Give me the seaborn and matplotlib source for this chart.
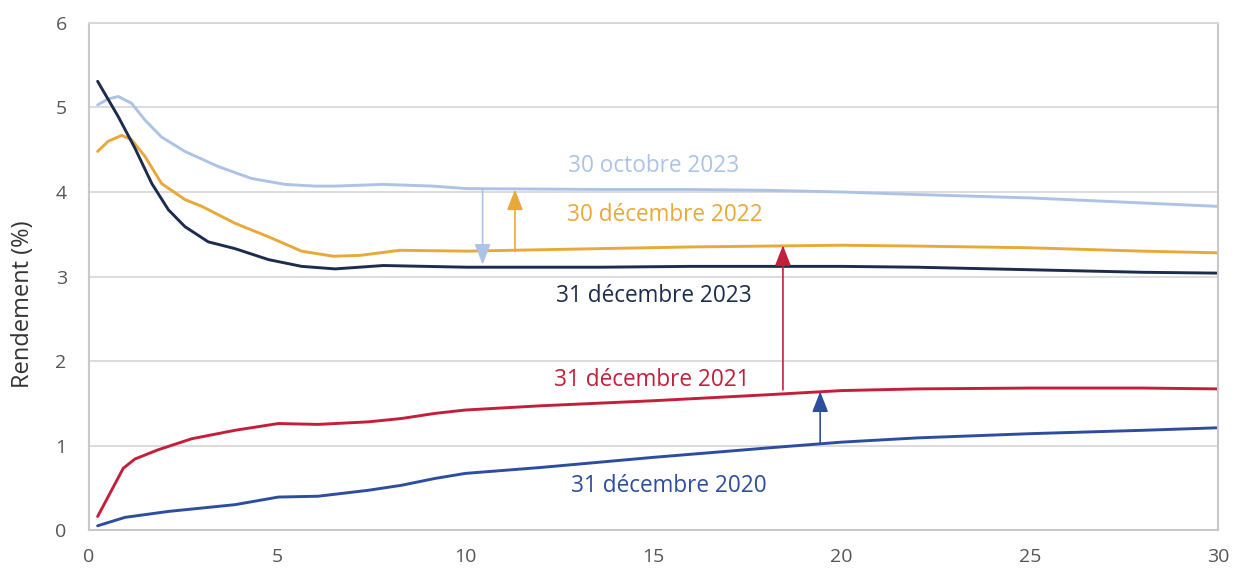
import matplotlib
matplotlib.use("Agg")
import matplotlib.pyplot as plt
import seaborn as sns
import pandas as pd

# ---- data ----
mat_oct23 = [0.23, 0.5, 0.78, 1.13, 1.49, 1.93, 2.55, 3.44, 4.32, 5.21, 6.0, 6.54, 7.82, 9.14, 10.04, 13.58, 16, 18, 20, 22, 25, 28, 30]
oct23 = [5.03, 5.1, 5.13, 5.05, 4.85, 4.65, 4.48, 4.30, 4.16, 4.09, 4.07, 4.07, 4.09, 4.07, 4.04, 4.03, 4.03, 4.02, 4.0, 3.97, 3.93, 3.87, 3.83]

mat_dec22 = [0.23, 0.51, 0.87, 1.13, 1.49, 1.93, 2.55, 3.0, 3.88, 4.77, 5.65, 6.49, 7.2, 8.26, 10.04, 13.58, 16, 18, 20, 22, 25, 28, 30]
dec22 = [4.48, 4.60, 4.67, 4.62, 4.42, 4.10, 3.91, 3.83, 3.63, 3.47, 3.30, 3.24, 3.25, 3.31, 3.30, 3.33, 3.35, 3.36, 3.37, 3.36, 3.34, 3.30, 3.28]

mat_dec23 = [0.23, 0.78, 1.22, 1.67, 2.11, 2.55, 3.17, 3.88, 4.77, 5.65, 6.54, 7.82, 10.04, 13.58, 16, 18, 20, 22, 25, 28, 30]
dec23 = [5.31, 4.89, 4.52, 4.10, 3.79, 3.59, 3.41, 3.33, 3.20, 3.12, 3.09, 3.13, 3.11, 3.11, 3.12, 3.12, 3.12, 3.11, 3.08, 3.05, 3.04]

mat_dec21 = [0.23, 0.60, 0.91, 1.22, 1.84, 2.73, 3.88, 5.03, 6.09, 7.42, 8.31, 9.19, 10.0, 12, 15, 18, 20, 22, 25, 28, 30]
dec21 = [0.16, 0.47, 0.73, 0.84, 0.95, 1.08, 1.18, 1.26, 1.25, 1.28, 1.32, 1.38, 1.42, 1.47, 1.53, 1.60, 1.65, 1.67, 1.68, 1.68, 1.67]

mat_dec20 = [0.23, 0.96, 2.11, 3.88, 5.03, 6.09, 7.42, 8.31, 9.19, 10.0, 12, 15, 18, 20, 22, 25, 28, 30]
dec20 = [0.05, 0.15, 0.22, 0.30, 0.39, 0.40, 0.47, 0.53, 0.61, 0.67, 0.74, 0.86, 0.97, 1.04, 1.09, 1.14, 1.18, 1.21]

series_names = ["30 octobre 2023", "30 décembre 2022", "31 décembre 2023", "31 décembre 2021", "31 décembre 2020"]
colors = ["#adc3e6", "#e8a93a", "#1c2c4f", "#c31f3b", "#2d4e9e"]

label_x = [15.0, 15.3, 15.0, 14.96, 15.4]
label_y = [4.31, 3.73, 2.77, 1.78, 0.52]

# arrows: (x, y_start, y_end, color index)
arrow_x = [10.46, 11.32, 18.44, 19.43]
arrow_y0 = [4.04, 3.30, 1.66, 1.03]
arrow_y1 = [3.14, 4.03, 3.37, 1.64]
arrow_c = [0, 1, 3, 4]

x_ticks = [0, 5, 10, 15, 20, 25, 30]
y_ticks = [0, 1, 2, 3, 4, 5, 6]
y_label = "Rendement (%)"

# ---- build frame ----
frames = []
for name, m, v in zip(series_names,
                      [mat_oct23, mat_dec22, mat_dec23, mat_dec21, mat_dec20],
                      [oct23, dec22, dec23, dec21, dec20]):
    frames.append(pd.DataFrame({"maturite": m, "rendement": v, "serie": name}))
df = pd.concat(frames, ignore_index=True)

sns.set_theme(style="white")
plt.rcParams["font.family"] = ["Open Sans", "DejaVu Sans"]

fig = plt.figure(figsize=(12.34, 5.69), dpi=100)
ax = fig.add_axes([0.0721, 0.0685, 0.9149, 0.8911])

sns.lineplot(data=df, x="maturite", y="rendement", hue="serie", hue_order=series_names,
             palette=dict(zip(series_names, colors)), linewidth=2.1, legend=False, ax=ax,
             estimator=None, sort=True)
for ln in ax.get_lines():
    ln.set_solid_joinstyle("round")
    ln.set_solid_capstyle("round")

for name, c, lx, ly in zip(series_names, colors, label_x, label_y):
    ax.text(lx, ly, name, color=c, fontsize=16.3, ha="center", va="center")

for x, y0, y1, ci in zip(arrow_x, arrow_y0, arrow_y1, arrow_c):
    ax.annotate("", xy=(x, y1), xytext=(x, y0),
                arrowprops=dict(arrowstyle="-|>,head_length=0.9,head_width=0.35",
                                color=colors[ci], lw=1.2, shrinkA=0, shrinkB=0,
                                mutation_scale=14))

ax.set_xlim(0, 30)
ax.set_ylim(0, 6)
ax.set_xticks(x_ticks)
ax.set_yticks(y_ticks)
ax.set_xlabel("")
ax.set_ylabel(y_label, fontsize=17, color="#333333")
ax.yaxis.set_label_coords(-0.048, 0.445)
ax.tick_params(axis="both", labelsize=14, colors="#555555", length=0)
ax.tick_params(axis="y", pad=16)
ax.tick_params(axis="x", pad=13)
ax.yaxis.grid(True, color="#d9d9d9", linewidth=1.3)
ax.xaxis.grid(False)
ax.set_axisbelow(True)
for s in ax.spines.values():
    s.set_color("#c8c8c8")
    s.set_linewidth(1.5)
ax.spines["top"].set_color("#d9d9d9")

fig.savefig("out.png", dpi=100)
